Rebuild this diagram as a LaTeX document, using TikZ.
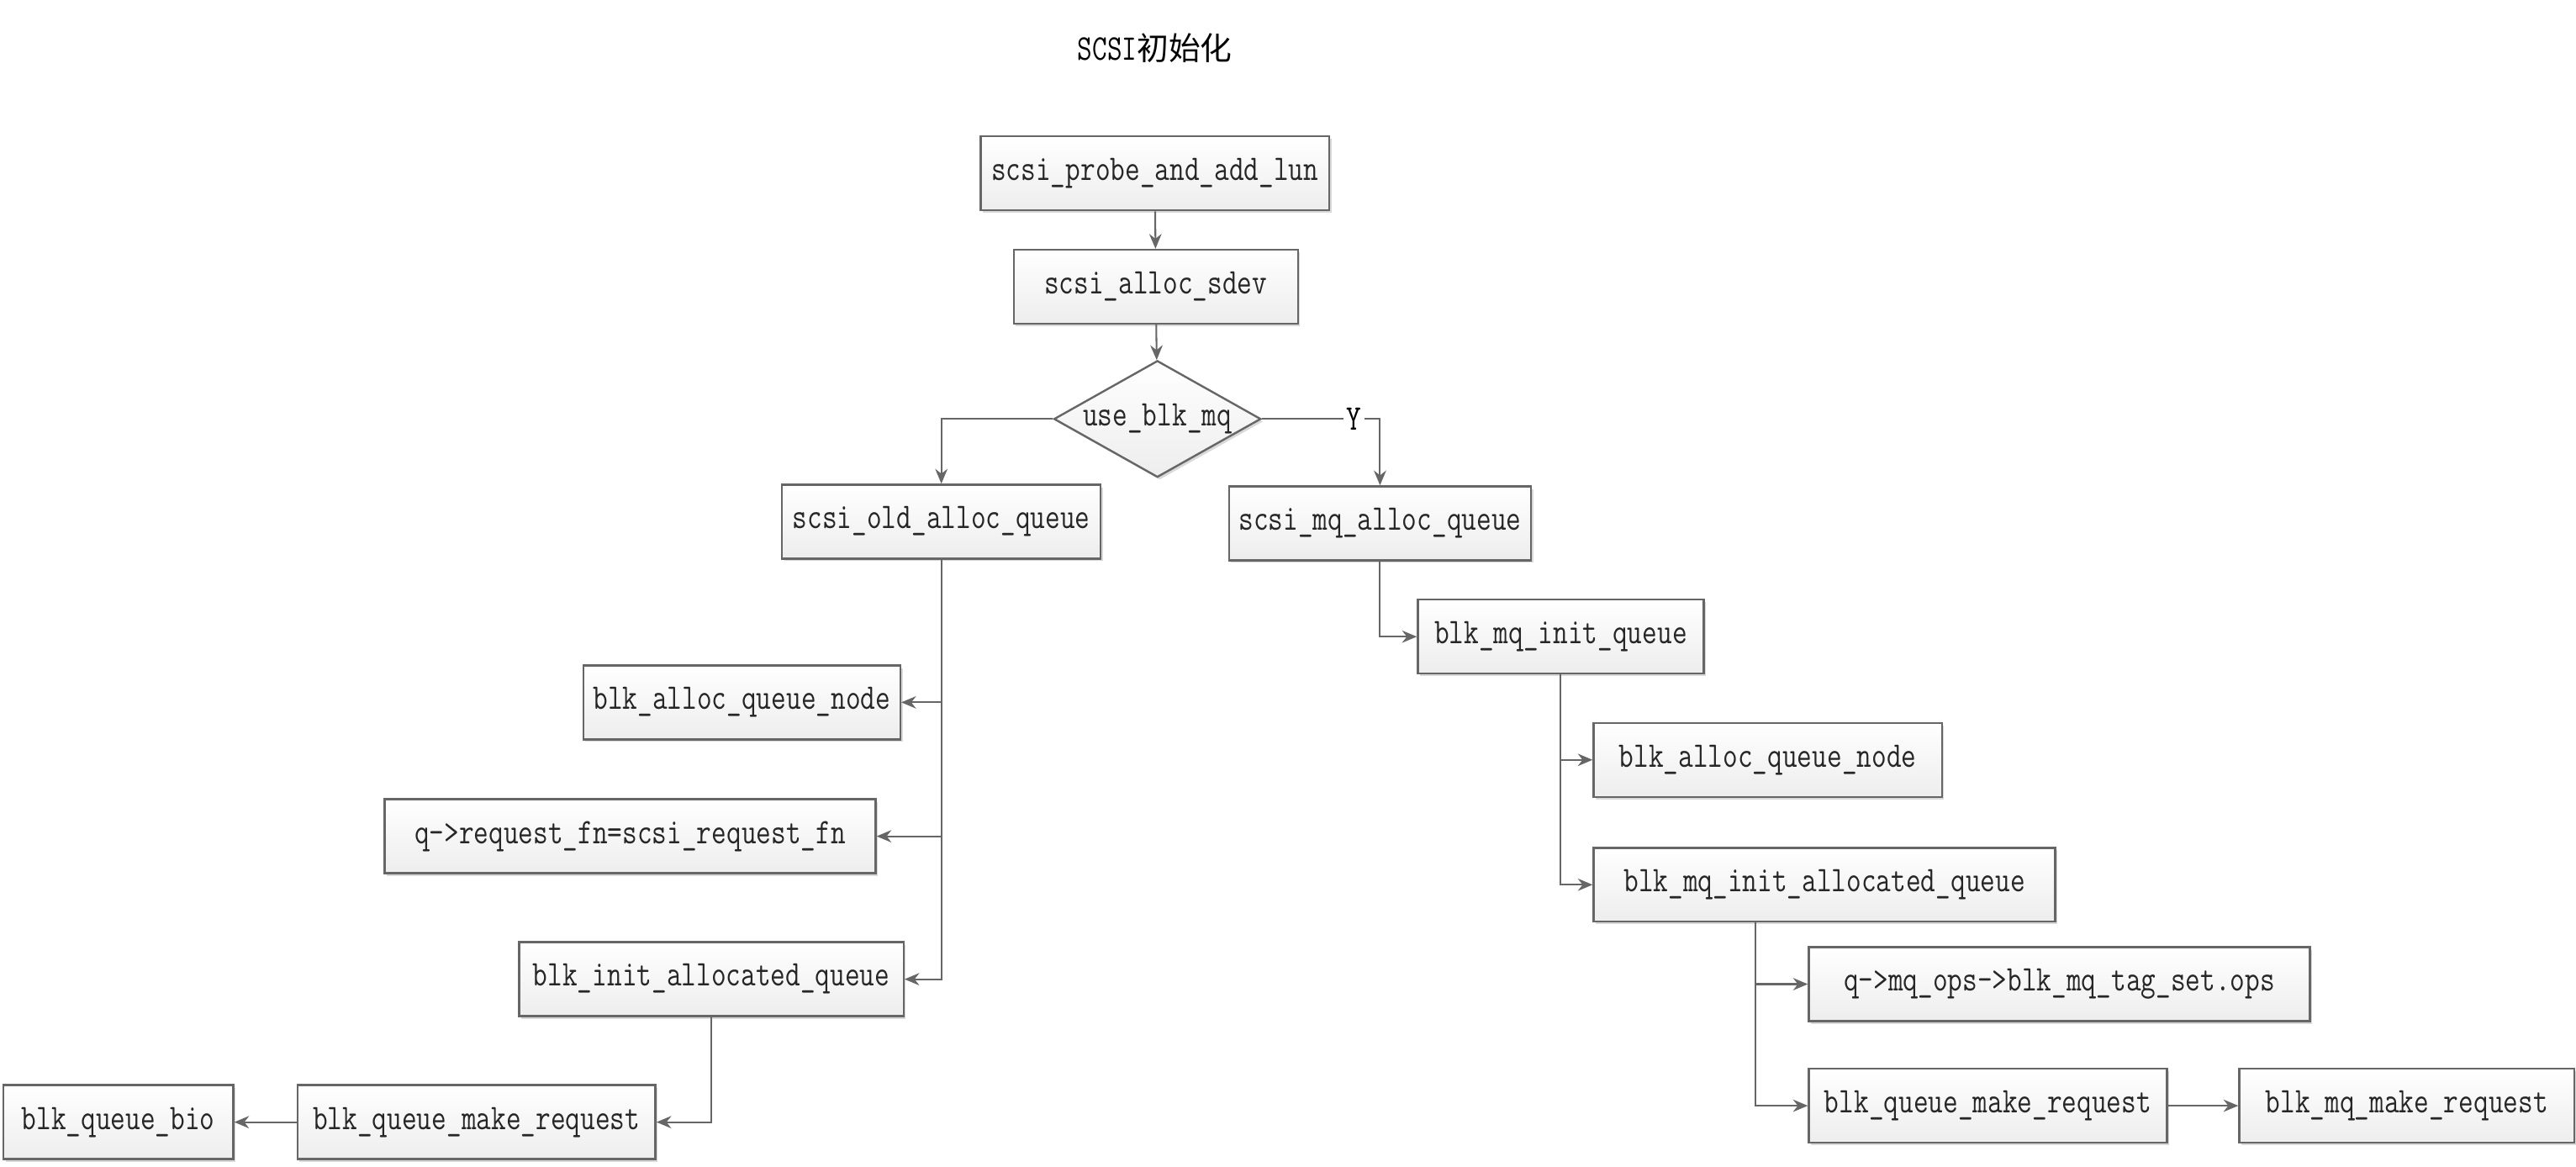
\documentclass[tikz,border=0pt]{standalone}
\usepackage{fontspec}
\setmonofont[FakeStretch=0.8]{Latin Modern Mono}
\newfontfamily\cjkfont{Noto Sans CJK SC}
\usetikzlibrary{shapes.geometric, arrows.meta, shadows}

\begin{document}
\begin{tikzpicture}[x=0.02cm, y=-0.02cm,
	font=\ttfamily\fontsize{12.5}{14}\selectfont,
	box/.style={draw=black!60, line width=0.7pt, top color=white, bottom color=black!7,
		minimum height=0.9cm, inner sep=2pt, text=black!85,
		drop shadow={shadow xshift=0.8pt, shadow yshift=-0.9pt, fill=black!25, opacity=0.6}},
	entscheid/.style={box, diamond, aspect=1.77, inner sep=0pt, minimum width=2.52cm, minimum height=1.42cm},
	pfeil/.style={draw=black!60, line width=0.6pt, -{Stealth[length=1.8mm, width=1.5mm]}}]
	%\draw[help lines] (0,0) grid[step=100] (1568,710);
	\useasboundingbox (0,0) rectangle (1568,710);

	\node (titel) at (703,29) {SCSI{\cjkfont\fontsize{11}{13}\selectfont 初始化}};	% Titel

	\node [box, minimum width=4.24cm] (probe) at (703,105.5) {scsi\_probe\_and\_add\_lun};
	\node [box, minimum width=3.46cm] (sdev) at (703.5,174.5) {scsi\_alloc\_sdev};
	\node [entscheid] (usemq) at (704.5,255) {use\_blk\_mq};					% Raute

	% linker Zweig
	\node [box, minimum width=3.88cm] (oldq) at (573,317.5) {scsi\_old\_alloc\_queue};
	\node [box, minimum width=3.86cm] (lalloc) at (451.5,427.5) {blk\_alloc\_queue\_node};
	\node [box, minimum width=5.98cm] (reqfn) at (383.5,509) {q->request\_fn=scsi\_request\_fn};
	\node [box, minimum width=4.68cm] (linit) at (433,596) {blk\_init\_allocated\_queue};
	\node [box, minimum width=4.36cm] (lmake) at (290,683) {blk\_queue\_make\_request};
	\node [box, minimum width=2.80cm] (bio) at (72,683) {blk\_queue\_bio};

	% rechter Zweig
	\node [box, minimum width=3.68cm] (mqq) at (840,318.5) {scsi\_mq\_alloc\_queue};
	\node [box, minimum width=3.48cm] (mqinit) at (950,387.5) {blk\_mq\_init\_queue};
	\node [box, minimum width=4.24cm] (ralloc) at (1076,462.5) {blk\_alloc\_queue\_node};
	\node [box, minimum width=5.62cm] (rinit) at (1110.5,538.5) {blk\_mq\_init\_allocated\_queue};
	\node [box, minimum width=6.10cm] (ops) at (1253.5,599) {q->mq\_ops->blk\_mq\_tag\_set.ops};
	\node [box, minimum width=4.36cm] (rmake) at (1210,673) {blk\_queue\_make\_request};
	\node [box, minimum width=4.08cm] (mqmake) at (1465,673) {blk\_mq\_make\_request};
	\coordinate (rknick) at (1068.5,561);										% Abzweig unter rinit

	\draw [pfeil] (probe) -- (sdev);
	\draw [pfeil] (sdev) -- (usemq);
	\draw [pfeil] (usemq.west) -| (oldq.north);
	\draw [pfeil] (usemq.east) -| node [pos=0.39, fill=white, inner sep=1pt] {Y} (mqq.north);

	\draw [pfeil] (oldq.south) |- (lalloc.east);
	\draw [pfeil] (oldq.south) |- (reqfn.east);
	\draw [pfeil] (oldq.south) |- (linit.east);
	\draw [pfeil] (linit.south) |- (lmake.east);
	\draw [pfeil] (lmake) -- (bio);

	\draw [pfeil] (mqq.south) |- (mqinit.west);
	\draw [pfeil] (mqinit.south) |- (ralloc.west);
	\draw [pfeil] (mqinit.south) |- (rinit.west);
	\draw [pfeil] (rknick) |- (ops.west);
	\draw [pfeil] (rknick) |- (rmake.west);
	\draw [pfeil] (rmake) -- (mqmake);

\end{tikzpicture}
\end{document}
